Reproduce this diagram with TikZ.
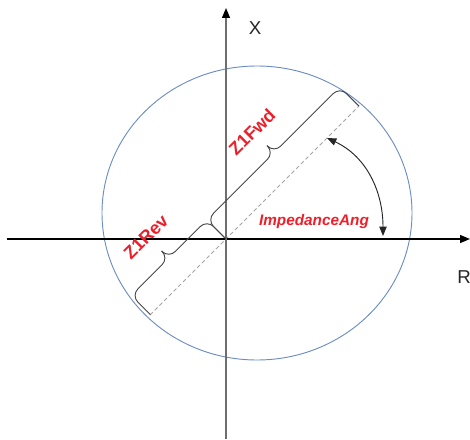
\documentclass[tikz,border=0pt]{standalone}
\usepackage{fontspec}
\setmainfont{Liberation Sans}
\usetikzlibrary{arrows.meta}
\definecolor{ringblue}{RGB}{108,142,196}
\definecolor{zred}{RGB}{236,32,42}
\definecolor{axisgray}{RGB}{110,110,110}

\begin{document}
\begin{tikzpicture}[x=0.75pt,y=0.75pt,>={Triangle[length=7.5pt,width=6pt]},
    zbrace/.style={draw=black!72,line width=0.7pt,rounded corners=7pt},
    zlabel/.style={text=zred,font=\fontsize{13.5}{15}\selectfont\bfseries,rotate=45},
    axislabel/.style={text=black!85,font=\fontsize{14}{16}\selectfont}]
  \useasboundingbox (-226,-200) rectangle (244,239);
  \coordinate (O) at (0,0);
  \coordinate (west) at (-219,0);
  \coordinate (east) at (244,0);
  \coordinate (south) at (0,-200);
  \coordinate (north) at (0,231);
  \coordinate (fwd) at (133,133);
  \coordinate (rev) at (-76,-76);
  \coordinate (angstart) at (157,3);
  \coordinate (angend) at (101,101);
  \draw[ringblue,line width=0.7pt] (31,26) ellipse [x radius=155,y radius=147];
  \draw[gray!70,line width=0.6pt,dash pattern=on 3pt off 2pt] (rev) -- (fwd);
  \draw[->,line width=1pt] (west) -- (east);
  \draw[-{Triangle[length=7.5pt,width=6pt,color=black]},axisgray,line width=1pt] (south) -- (north);
  \begin{scope}[rotate=45]
    \draw[zbrace] (O) -- (0,27) -- (95,27) -- (95,37);
    \draw[zbrace] (95,37) -- (95,27) -- (188,27) -- (188,0);
    \draw[zbrace] (-107,0) -- (-107,27) -- (-54,27) -- (-54,37);
    \draw[zbrace] (-54,37) -- (-54,27) -- (0,27) -- (O);
  \end{scope}
  \draw[{Triangle[length=7pt,width=5.5pt]}-{Triangle[length=7pt,width=5.5pt]},black!85,line width=0.7pt]
    (angstart) to[out=90,in=-25] (angend);
  \node[zlabel] (fwdlabel) at (26,107) {Z1Fwd};
  \node[zlabel] (revlabel) at (-80,2) {Z1Rev};
  \node[text=zred,font=\fontsize{11.5}{13}\selectfont\bfseries\itshape] (anglabel) at (88,17) {ImpedanceAng};
  \node[axislabel] (xlabel) at (29,211) {X};
  \node[axislabel] (rlabel) at (238,-38) {R};
\end{tikzpicture}
\end{document}
